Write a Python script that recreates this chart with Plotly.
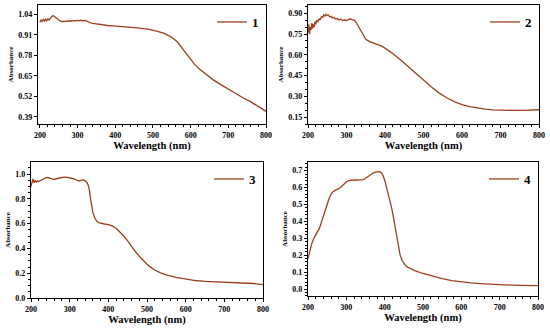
import plotly.graph_objects as go

# ---------------- data ----------------
p1_x = [200,203,206,209,212,215,218,221,224,227,230,233,236,239,242,245,248,251,254,257,260,264,268,272,276,280,285,290,295,300,305,310,315,320,325,330,335,340,350,360,380,400,430,460,490,510,530,550,565,580,595,610,625,640,660,680,700,720,740,760,780,800]
p1_y = [0.990,1.005,0.995,1.008,0.998,1.010,1.000,1.012,1.005,1.015,1.022,1.030,1.032,1.025,1.018,1.012,1.008,1.003,0.999,0.996,0.994,0.997,0.995,0.999,0.997,1.000,0.998,1.001,0.999,1.002,1.000,1.003,1.000,1.002,0.996,0.990,0.987,0.984,0.980,0.976,0.970,0.966,0.961,0.955,0.945,0.935,0.920,0.895,0.865,0.820,0.770,0.725,0.690,0.660,0.625,0.595,0.565,0.537,0.510,0.485,0.455,0.425]

p2_x = [200,202,204,206,208,210,212,214,216,218,220,223,226,229,232,235,238,241,244,247,250,253,256,260,264,268,272,276,280,285,290,295,300,305,310,315,320,325,330,335,340,345,350,360,370,380,390,400,420,440,460,480,500,520,540,560,580,600,620,640,660,680,700,720,740,760,780,800]
p2_y = [0.76,0.82,0.75,0.80,0.78,0.83,0.79,0.82,0.80,0.84,0.82,0.85,0.84,0.86,0.855,0.875,0.87,0.89,0.88,0.893,0.885,0.888,0.875,0.878,0.866,0.870,0.858,0.862,0.852,0.857,0.848,0.853,0.847,0.856,0.860,0.852,0.850,0.835,0.81,0.78,0.755,0.73,0.712,0.695,0.685,0.676,0.664,0.648,0.61,0.565,0.515,0.465,0.415,0.37,0.325,0.29,0.262,0.24,0.225,0.215,0.208,0.202,0.199,0.198,0.198,0.199,0.201,0.203]

p3_x = [200,203,205,208,211,214,217,220,225,230,235,240,245,250,255,260,265,270,280,290,300,310,320,325,330,335,340,345,348,351,354,357,360,365,370,375,380,390,400,410,420,430,440,450,460,470,480,490,500,510,520,535,550,575,600,625,650,675,700,725,750,775,800]
p3_y = [0.90,0.93,0.96,0.93,0.95,0.935,0.945,0.94,0.95,0.958,0.97,0.973,0.97,0.965,0.958,0.955,0.962,0.966,0.972,0.975,0.97,0.962,0.948,0.943,0.95,0.952,0.945,0.93,0.91,0.87,0.80,0.74,0.69,0.645,0.618,0.607,0.602,0.597,0.592,0.582,0.563,0.535,0.50,0.46,0.415,0.375,0.337,0.302,0.272,0.247,0.226,0.203,0.186,0.166,0.152,0.141,0.134,0.130,0.128,0.126,0.123,0.117,0.108]

p4_x = [200,205,210,215,220,225,230,235,240,245,250,255,260,265,270,275,280,285,290,295,300,305,310,315,320,325,330,335,340,345,350,355,360,365,370,375,380,385,390,395,400,405,410,415,420,425,430,435,440,445,450,455,460,470,480,500,525,550,575,600,625,650,675,700,750,800]
p4_y = [0.18,0.23,0.27,0.30,0.32,0.34,0.36,0.395,0.43,0.47,0.505,0.535,0.56,0.575,0.582,0.587,0.593,0.60,0.612,0.625,0.633,0.64,0.643,0.645,0.643,0.646,0.644,0.645,0.643,0.647,0.655,0.664,0.672,0.68,0.686,0.69,0.693,0.695,0.69,0.675,0.645,0.605,0.56,0.51,0.46,0.40,0.33,0.26,0.205,0.17,0.15,0.138,0.13,0.118,0.108,0.092,0.075,0.061,0.05,0.042,0.036,0.032,0.028,0.026,0.022,0.02]

names = ["1", "2", "3", "4"]
xs = [p1_x, p2_x, p3_x, p4_x]
ys = [p1_y, p2_y, p3_y, p4_y]

# ---------------- style ----------------
W, H = 550, 328
LINE = "#9e3f1b"
FONT = "Liberation Serif"

# pixel boxes (left, right, top, bottom)
boxes = [(38, 266, 5, 124), (308, 539, 5, 124), (31, 263, 162, 298), (308, 538, 162, 296)]
yranges = [[0.345, 1.10], [0.10, 0.96], [0.0, 1.097], [-0.041, 0.751]]
ydt = [(0.39, 0.13, ".2f"), (0.15, 0.15, ".2f"), (0.0, 0.2, ".1f"), (0.0, 0.1, ".1f")]
xranges = [[195, 800], [200, 800], [200, 800], [200, 800]]

fig = go.Figure()
layout = dict(width=W, height=H, margin=dict(l=0, r=0, t=0, b=0, autoexpand=False),
              paper_bgcolor="white", plot_bgcolor="white", showlegend=True)

for i in range(4):
    sfx = "" if i == 0 else str(i + 1)
    l, r, t, b = boxes[i]
    fig.add_trace(go.Scatter(x=xs[i], y=ys[i], mode="lines", name=names[i],
                             line=dict(color=LINE, width=1.3),
                             xaxis="x" + sfx, yaxis="y" + sfx,
                             legend="legend" + sfx))
    common = dict(showline=True, linecolor="black", linewidth=1.2, mirror=True,
                  ticks="outside", ticklen=3, tickwidth=1, tickcolor="black",
                  showgrid=False, zeroline=False, automargin=False,
                  tickfont=dict(family=FONT, size=8, color="black", weight="bold"),
                  minor=dict(ticks="outside", ticklen=2, tickcolor="black"))
    layout["xaxis" + sfx] = dict(common, domain=[l / W, r / W], range=xranges[i],
                                 anchor="y" + sfx, tick0=200, dtick=100,
                                 title=dict(text="Wavelength (nm)", standoff=1,
                                            font=dict(family=FONT, size=10.5, color="black", weight="bold")))
    t0, dt, fmt = ydt[i]
    layout["yaxis" + sfx] = dict(common, domain=[(H - b) / H, (H - t) / H], range=yranges[i],
                                 anchor="x" + sfx, tick0=t0, dtick=dt, tickformat=fmt,
                                 title=dict(text="Absorbance", standoff=3,
                                            font=dict(family=FONT, size=7, color="black", weight="bold")))
    layout["legend" + sfx] = dict(x=(r - 2) / W, y=(H - t - 2) / H, xanchor="right", yanchor="top",
                                  xref="paper", yref="paper", bgcolor="rgba(0,0,0,0)",
                                  font=dict(family=FONT, size=13, color="black", weight="bold"),
                                  itemwidth=30)

fig.update_layout(**layout)
fig.write_html("out.html", config={"displayModeBar": False},
               post_script="document.body.style.margin='0';document.body.style.overflow='hidden';")
